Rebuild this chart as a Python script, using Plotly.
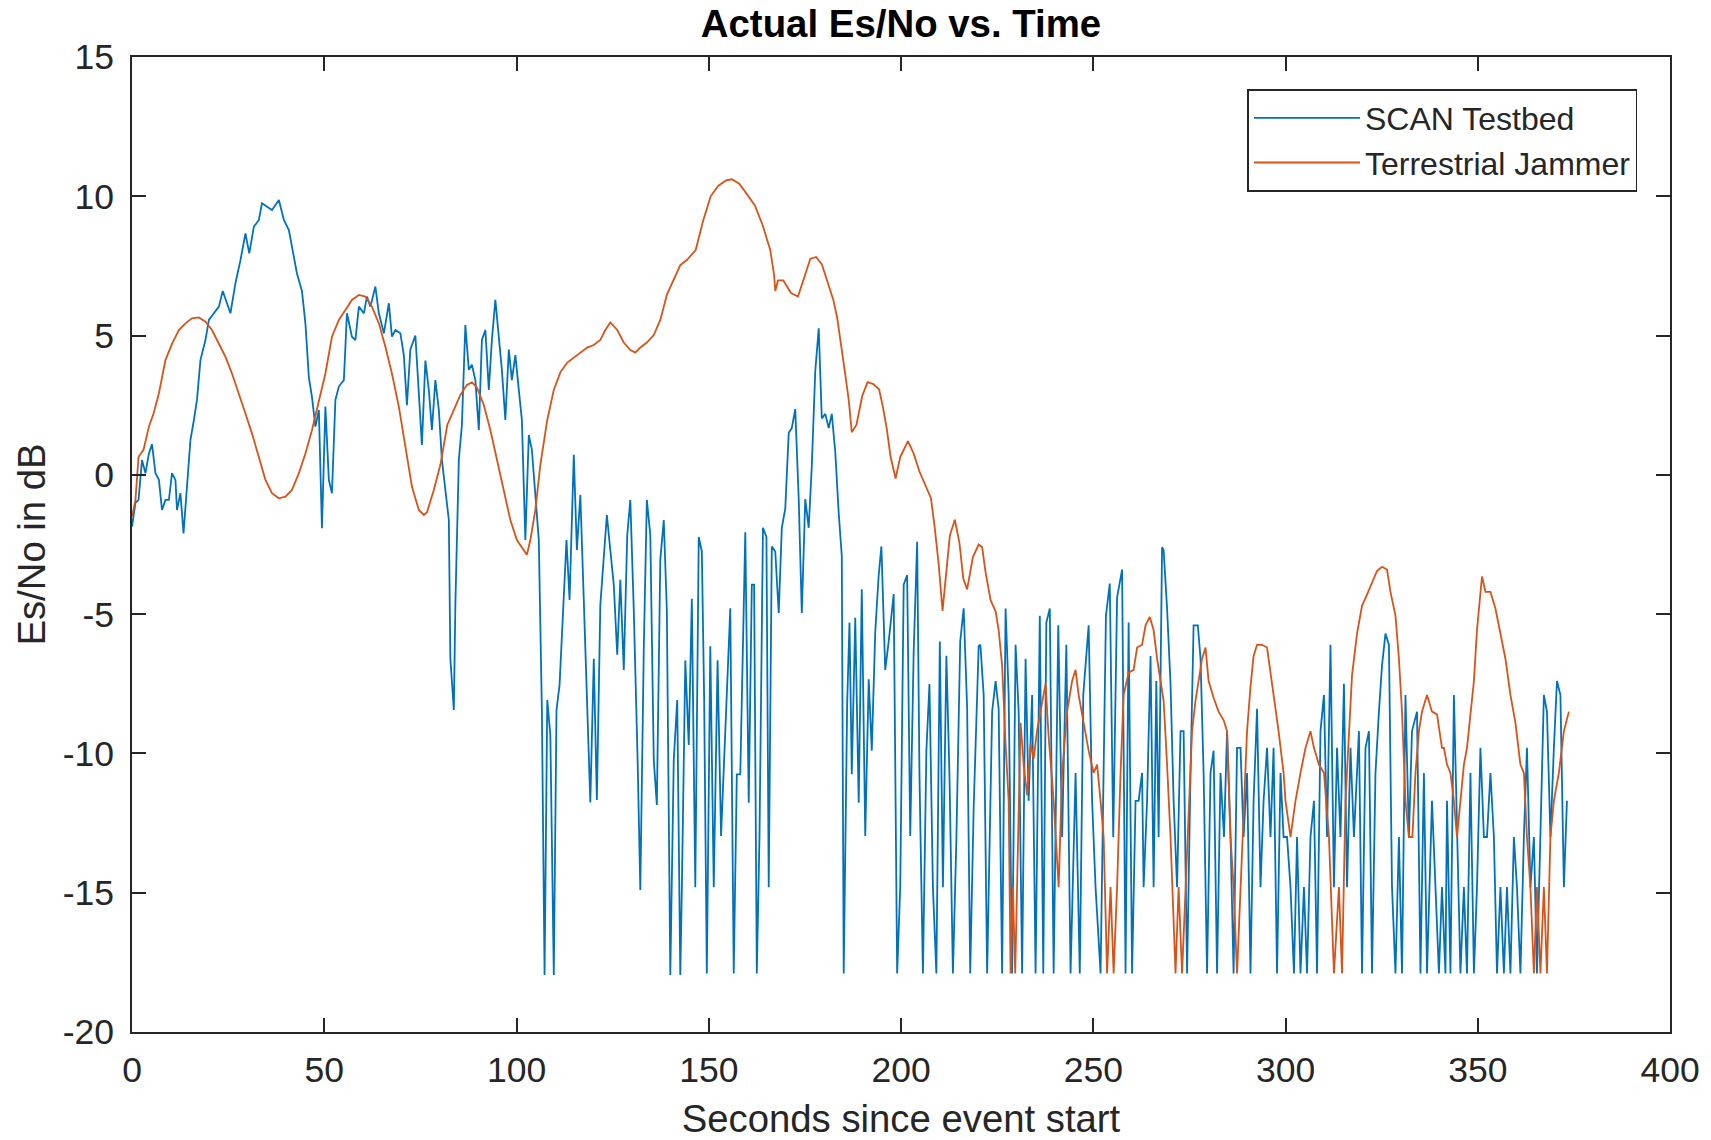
import plotly.graph_objects as go

# ---------------- data ----------------
scan_t = [0, 0.9, 1.7, 2.6, 3.5, 4.4, 5.2, 6.1, 7, 7.8, 8.7, 9.6, 10.4, 11.3, 11.7, 12.6, 13.4, 14.3, 15.2, 16.1,
          16.9, 17.8, 19.1, 20, 21.3, 22.6, 23.6, 24.7, 25.6, 26.9, 28.2, 29.5, 30.5, 31.7, 33, 33.8, 35.1, 36.4, 38.2, 39.5,
          40.8, 41.6, 42.9, 44.2, 45.1, 46, 46.8, 47.7, 48.6, 49.4, 50.3, 51.2, 52, 52.9, 53.8, 55.1, 55.9, 57.2, 58.1, 59,
          60.3, 61.1, 62, 63.3, 64.2, 65.5, 66.8, 67.6, 68.5, 69.8,
          70.7, 71.5, 72.4, 73.7, 74.6, 75.4, 76.3, 77.2, 78, 78.9, 79.8, 80.6, 81.5, 82.4, 82.8, 83.7, 84.1, 85, 85.8, 86.7,
          87.6, 88.4, 89.3, 90.2, 91, 91.9, 92.8, 93.6, 94.5, 95.4, 96.2, 97.1, 98, 98.8, 99.7, 100.6, 101.4, 102.3, 103.2, 104,
          104.9, 105.8, 106.6, 107.3, 108, 108.8, 109.7, 110.4, 111.2, 112.1, 113, 113.8, 114.9, 115.7, 116.6, 117.5, 118.4, 119.2,
          120.1, 120.9, 121.8, 122.7, 123.5, 124.4, 125.3, 126.2, 127, 127.9, 128.8, 129.6, 130.5, 131.5, 132.2, 133.1, 133.9,
          134.8, 135.7, 136.5, 137.4, 138.3, 139.1, 140, 140.9, 141.8, 142.6,
          143.0, 143.9, 144.8, 145.6, 146.5, 147.4, 148.2, 148.8, 149.5, 150.4, 151.3, 152.3, 153.2, 154.3, 155.6, 156.5, 157.3,
          158.2, 159.5, 160.4, 161.2, 161.8, 162.5, 163.2, 164.1, 165, 165.6, 166.4, 167.3, 168.2, 169, 169.9, 170.8, 171.6, 172.5,
          173.4, 174.2, 175.1, 176, 176.8, 177.7, 178.6, 179.4, 180.3, 181.2, 182, 182.9, 183.8, 184.6, 185.1, 186, 186.6, 187.2,
          188.1, 189, 189.8, 190.7, 191.6, 192.4, 193.3, 194.2, 194.9, 195.9, 196.8, 198.1, 199, 199.8, 200.7, 201.6, 202.4,
          203.3, 204.2, 204.8, 205.7, 206.6, 207.4, 208.3, 209.2, 210.1, 210.9, 211.8, 212.6, 213.5, 214.4, 215.4, 216.3, 217.2,
          218, 218.9, 220.2,
          220.65, 221.5, 222.4, 223.7, 224.6, 225.4, 226.3, 227.2, 228, 228.9, 229.8, 230.6, 231.5, 232.4, 233.2, 234.1, 235,
          236.1, 237, 237.8, 238.7, 239.7, 240.9, 241.9, 243, 244.1, 245.4, 246.5, 247.4, 248.8, 249.7, 250.6, 251.9, 253.3,
          254.3, 255.2, 256.2,
          257.5, 258.4, 259.2, 260.1, 261.0, 261.8, 262.7, 263.1, 264, 264.9, 265.7, 266.4, 267, 267.9, 268.3, 269.2, 270.1,
          270.9, 271.8, 272.7, 273.5, 274.4, 275.3, 276.1, 277.2, 277.9, 278.7, 279.6, 280.5, 281.3, 282.2, 283.1, 284, 284.8,
          285.7, 286.5, 287.4, 288.3, 289.1, 290, 290.9, 291.7, 292.6, 293.5, 294.3, 295.2, 296.1, 296.9, 297.8, 298.7, 299.5,
          300.4, 301.3, 302.2, 303, 303.9, 304.8, 305.6, 306.5, 307.4, 308.2, 309.1, 310, 310.8, 311.7, 312.6, 313.4, 314.3,
          315.2, 316, 316.9, 317.8, 319.1, 319.9, 320.8, 321.7, 322.5, 323.4, 324.3, 325.1, 326, 326.9, 327.7, 328.6, 329.5,
          330.3, 331.2, 332.1, 332.9, 334.2, 335.1, 336, 336.8, 338.1, 339, 339.9, 340.7, 341.6,
          342, 342.9, 343.8, 344.6, 345.5, 346.4, 347.2, 348.1, 349, 349.8, 350.7, 351.6, 352.4, 353.3, 354.2, 355, 355.9,
          356.8, 357.6, 358.5, 359.4, 360.2, 361.1, 362, 362.8, 363.7, 364.6, 365.4, 366.3, 367.2, 368, 368.9, 369.8, 370.6,
          371.5, 372.4, 373.2]

scan_db = [-1.86, -1.0, -0.9, 0.53, 0.06, 0.77, 1.1, 0.06, -0.18, -1.26, -0.9, -0.9, 0.06, -0.18, -1.26, -0.66, -2.1, -0.4, 1.25, 1.97,
           2.69, 4.12, 4.84, 5.56, 5.8, 6.04, 6.6, 6.16, 5.8, 6.88, 7.7, 8.67, 7.95, 8.91, 9.15, 9.75, 9.63, 9.51, 9.87, 9.15,
           8.79, 8.19, 7.23, 6.6, 5.44, 3.5, 2.8, 1.73, 2.33, -1.92, 2.45, -0.18, -0.66, 2.69, 3.17, 3.4, 5.8, 4.96, 4.84, 6.04,
           5.8, 6.4, 6.04, 6.76, 5.8, 5.08, 6.16, 4.96, 5.2, 5.08,
           4.3, 2.5, 4.5, 5.0, 3.05, 1.07, 4.1, 3.05, 1.61, 3.4, 2.33, 0.54, -0.54, -1.62, -6.6, -8.44, -4.67, 0.54, 1.79, 5.38,
           3.77, 3.95, 3.4, 1.61, 4.84, 5.2, 3.05, 4.84, 6.28, 5.0, 3.77, 1.97, 4.5, 3.4, 4.3, 3.05, 1.97, -2.34, 1.43, 0.9,
           -0.9, -2.34, -8.44, -17.95, -8.08, -9.33, -17.95, -8.44, -7.54, -4.85, -2.34, -4.49, 0.72, -2.7, -0.72, -4.49, -8.44, -11.76,
           -6.6, -11.67, -4.67, -3.05, -1.44, -2.7, -3.95, -6.46, -3.77, -7.0, -2.16, -0.9, -4.85, -10.23, -14.9, -6.28, -0.9,
           -2.16, -10.23, -11.85, -3.05, -1.62, -4.85, -17.95, -10.23, -8.08, -17.95,
           -14.9, -6.66, -9.7, -4.45, -14.8, -2.23, -2.75, -8.02, -17.9, -6.15, -14.8, -6.66, -12.96, -9.22, -4.79, -17.9, -10.75,
           -10.75, -2.06, -11.77, -3.94, -3.94, -17.9, -12.96, -1.9, -2.23, -14.8, -2.57, -2.75, -4.96, -1.9, -1.21, 1.51, 1.68, 2.36,
           -0.87, -4.96, -0.87, -1.9, 0.32, 3.72, 5.26, 2.02, 2.19, 1.68, 2.19, 0.83, -1.38, -2.91, -17.9, -8.2, -5.3, -10.75,
           -5.13, -11.77, -4.11, -12.96, -7.34, -9.9, -5.64, -3.6, -2.57, -7.0, -5.98, -4.28, -17.9, -14.8, -3.94, -3.6, -12.96,
           -6.32, -2.4, -10.75, -17.9, -9.9, -7.51, -14.8, -17.9, -5.98, -14.8, -6.49, -10.75, -17.9, -13.1, -5.98, -4.79, -8.36,
           -17.9, -11.94, -6.15,
           -6.1, -7.9, -17.9, -8.5, -7.4, -8.4, -17.9, -4.8, -7.9, -17.9, -6.1, -8.5, -17.9, -6.6, -11.7, -7.9, -17.9,
           -5.06, -17.9, -5.3, -4.8, -17.9, -5.4, -13.0, -6.1, -17.9, -10.7, -17.9, -7.9, -5.4, -11.7, -14.8, -17.9, -5.06,
           -3.9, -13.0, -4.4,
           -3.4, -17.9, -5.3, -17.9, -11.7, -11.7, -10.7, -14.8, -11.7, -6.5, -14.8, -7.4, -13.0, -2.6, -2.7, -4.8, -7.5,
           -11.7, -14.8, -9.2, -9.2, -17.9, -10.7, -5.4, -5.4, -6.6, -10.7, -17.9, -10.7, -9.9, -17.9, -10.7, -13.0, -9.2,
           -13.0, -17.9, -9.8, -9.8, -13.0, -10.7, -17.9, -11.7, -8.4, -14.8, -11.7, -9.8, -13.0, -9.8, -17.9, -10.7, -13.0,
           -13.0, -14.8, -17.9, -13.0, -17.9, -14.8, -17.9, -13.0, -11.7, -17.9, -9.2, -7.9, -13.0, -6.1, -14.8, -9.8, -13.0,
           -7.5, -14.8, -9.8, -13.0, -9.2, -17.9, -9.8, -9.2, -17.9, -10.7, -8.5, -6.85, -5.7, -6.1, -14.8, -17.9, -13.0,
           -17.9, -7.9, -13.0, -9.2, -8.5, -17.9, -10.7, -17.9, -11.7, -14.8, -17.9, -14.8, -17.9,
           -11.7, -17.9, -7.9, -13.0, -17.9, -14.8, -17.9, -10.7, -17.9, -14.8, -9.8, -13.0, -13.0, -10.7, -13.0, -17.9, -14.8,
           -17.9, -14.8, -17.9, -13.0, -14.8, -17.9, -13.0, -9.8, -14.8, -13.0, -17.9, -13.0, -7.9, -8.5, -13.0, -9.8, -7.4,
           -7.9, -14.8, -11.7]

jam_t = [0, 0.9, 1.7, 3, 4.4, 5.6, 7, 8.7, 10.4, 12.2, 13.9, 15.6, 17.4, 19.1, 20.8, 22.6, 24.3, 26, 27.8, 29.5,
         31.2, 33, 34.7, 36.4, 38.2, 39.9, 41.6, 43.4, 45.1, 46.8, 48.6, 50.3, 52, 53.8, 55.5, 57.2, 59, 60.7, 62.4, 64.2,
         65.9, 67.6, 69.4, 71.1, 72.8, 74.6, 75.9, 76.7, 78.5, 80.2, 82, 83.7, 85.4, 87.1, 88.4, 89.7, 91.5, 93.2, 94.9, 96.7,
         98.4, 100.1, 101.9, 102.7, 103.6, 104.9, 106.2, 108, 109.7, 111.4, 113.2, 114.9, 116.6, 118.4, 120.1, 121.8, 123.1,
         124.4, 126.2, 127.9, 129.6, 130.9, 132.2, 133.9, 135.7, 137.4, 139.1, 140.9, 142.6, 144.3, 146.6, 148.5, 150.5, 152.5,
         154.5, 156, 158, 160, 162, 164, 166, 167, 167.3, 168, 169.4, 171.4, 173.2, 174.9, 176.4, 177.9, 179.4, 180.9, 182.4,
         183.4, 184.4, 185.4, 186.4, 187.2, 188.4, 189.9, 191.3, 192.8, 194.3, 195.3, 196.3, 197.3, 198.6, 199.8, 201.8, 203.3,
         204.8, 206.3, 207.8, 208.8, 209.8, 210.8, 211.7, 212.7, 214, 215.2, 216.2, 217.2, 218.7, 220.2, 221.1, 222, 223.3,
         224.6, 225.4, 226.3, 227.2, 228, 228.5, 229.1, 229.7, 230.2, 231.1, 231.9, 232.8, 233.7, 234.5, 235.4, 236.7, 237.6,
         238.4, 239.7, 241, 241.9, 243.2, 244.5, 245.4, 246.2, 247.5, 248.8, 250.1, 251, 251.9, 252.7, 253.6, 254.5, 255.3,
         256.2, 257.1, 257.9, 259.2, 260.5, 261.4, 262.7, 263.6, 264.7, 265.7, 266.6, 267.5, 268.3, 269.2, 270.1, 271.4,
         272.2, 273.1, 274, 274.8, 275.7, 276.6, 277.4, 278.3, 279.2, 280, 281.3, 282.6, 283.9, 284.8, 285.7, 286.5, 287.4,
         288.3, 289.1, 290, 290.9, 291.7, 292.6, 293.9, 295.2, 296.1, 296.9, 298.2, 299.5, 300, 301.3, 302.6, 303.9, 305.2,
         306.5, 307.4, 308.7, 310, 311.3, 312.6, 313.9, 314.7, 315.6, 316.5, 317.3, 318.6, 319.9, 321.2, 322.5, 323.8, 325.1,
         326.4, 327.3, 328.6, 329.5, 330.3, 331.2, 332.1, 333, 333.8, 334.7, 335.5, 336.8, 338.1, 339.4, 340.7, 341.2, 342,
         342.9, 343.8, 344.6, 345.5, 346.4, 347.2, 348.1, 349, 349.8, 350.7, 351.1, 352, 353.3, 354.6, 355.9, 357.2, 358.5,
         359.8, 361.1, 362, 362.8, 363.7, 364.6, 365.4, 366.3, 367.2, 368, 368.9, 369.8, 371.1, 372.4, 373.7]

jam_db = [-1.5, -0.9, 0.65, 0.9, 1.73, 2.2, 2.93, 4.12, 4.7, 5.2, 5.44, 5.62, 5.65, 5.5, 5.2, 4.72, 4.24, 3.64, 2.93, 2.2,
          1.49, 0.65, -0.18, -0.66, -0.84, -0.78, -0.54, 0.06, 0.77, 1.6, 2.69, 3.64, 4.96, 5.56, 5.92, 6.28, 6.46, 6.4, 6.04, 5.44,
          4.6, 3.64, 2.45, 1.0, -0.42, -1.26, -1.44, -1.35, -0.54, 0.36, 1.79, 2.33, 2.87, 3.23, 3.32, 3.14, 2.51, 1.61, 0.54, -0.54,
          -1.62, -2.34, -2.7, -2.87, -2.34, -1.26, 0.36, 1.97, 3.05, 3.68, 4.03, 4.21, 4.39, 4.57, 4.66, 4.84, 5.2,
          5.47, 5.2, 4.75, 4.48, 4.39, 4.57, 4.75, 5.02, 5.56, 6.46, 7.0, 7.53, 7.71, 8.07, 9.1, 10.0, 10.38,
          10.57, 10.61, 10.44, 10.06, 9.67, 8.97, 8.07, 7.17, 6.6, 6.98, 6.98, 6.53, 6.4, 7.11, 7.75, 7.82, 7.56, 6.92, 6.28,
          5.64, 4.74, 3.71, 2.69, 1.53, 1.79, 2.82, 3.33, 3.26, 3.07, 2.43, 1.66, 0.64, -0.13, 0.64, 1.21, 0.76,
          0.12, -0.39, -0.84, -1.93, -3.21, -4.88, -3.72, -2.18, -1.61, -2.44, -3.72, -4.11, -2.95, -2.5, -2.6, -3.5, -4.5,
          -4.9, -5.57, -6.85, -9.67, -11.7, -17.9, -14.8, -17.9, -14.8, -8.9, -10.4, -11.5, -9.67, -10.2, -9.16, -8.1, -7.5,
          -9.4, -11.7, -14.8, -10.7, -8.5, -7.4, -7.0, -7.9, -8.9, -9.9, -10.7, -10.4, -11.7, -13.0, -17.9, -14.8, -17.9,
          -14.8, -10.7, -7.9, -7.1, -7.0, -6.2, -6.1, -5.4, -5.1, -5.57, -6.6, -7.4, -8.1, -10.4, -13.0, -17.9,
          -14.8, -17.9, -14.8, -11.7, -9.2, -8.1, -7.4, -6.6, -6.2, -7.4, -8.0, -8.5, -8.8, -9.2, -13.0, -14.8, -17.9,
          -14.8, -11.7, -9.2, -7.6, -6.5, -6.1, -6.1, -6.2, -7.1, -7.9, -9.2, -10.7, -11.7, -13.0, -11.7, -10.7, -9.8,
          -9.2, -9.8, -10.4, -10.7, -13.0, -17.9, -14.8, -17.9, -11.7, -9.2, -7.2, -5.7, -4.7, -4.3, -3.9, -3.45, -3.3,
          -3.4, -4.2, -5.05, -6.6, -8.5, -11.7, -13.0, -13.0, -10.7, -9.2, -8.5, -7.9, -8.5, -8.6, -9.8, -9.8, -10.4,
          -10.7, -11.7, -13.0, -11.7, -10.4, -9.8, -8.5, -7.4, -5.57, -4.3, -3.65, -4.2, -4.2, -4.8, -5.7, -6.6, -7.9,
          -8.9, -10.4, -10.7, -13.0, -14.8, -17.9, -14.8, -17.9, -14.8, -17.9, -13.0, -11.7, -10.7, -9.2, -8.5]

series_names = ["SCAN Testbed", "Terrestrial Jammer"]
x_ticks = [0, 50, 100, 150, 200, 250, 300, 350, 400]
y_ticks = [-20, -15, -10, -5, 0, 5, 10, 15]
y_tick_text = ["-20", "-15", "-10", "-5", "0", "5", "10", "15"]

# ---------------- figure ----------------
FONT = "Liberation Sans, Arial, Helvetica, sans-serif"
INK = "#262626"

fig = go.Figure()
fig.add_trace(go.Scatter(x=scan_t, y=scan_db, mode="lines", name=series_names[0],
                         line=dict(color="#0072BD", width=1.8)))
fig.add_trace(go.Scatter(x=jam_t, y=jam_db, mode="lines", name=series_names[1],
                         line=dict(color="#D95319", width=1.8)))

axis_common = dict(showgrid=False, zeroline=False, showline=True, linecolor=INK, linewidth=1.6,
                   mirror="ticks", ticks="inside", ticklen=14, tickwidth=1.6, tickcolor=INK,
                   automargin=False,
                   tickfont=dict(family=FONT, size=35.5, color=INK))

fig.update_layout(
    template="none",
    width=1711, height=1140,
    paper_bgcolor="white", plot_bgcolor="white",
    margin=dict(l=132, r=41, t=57, b=108, autoexpand=False),
    title=dict(text="<b>Actual Es/No vs. Time</b>", x=0.5, xref="paper", y=1 - 24 / 1140, yref="container",
               xanchor="center", yanchor="middle", font=dict(family=FONT, size=38.4, color="#000000")),
    xaxis=dict(range=[0, 400], tickvals=x_ticks, ticklabelstandoff=6,
               title=dict(text="Seconds since event start", font=dict(family=FONT, size=38.3, color=INK), standoff=19),
               **axis_common),
    yaxis=dict(range=[-20, 15], tickvals=y_ticks, ticktext=y_tick_text, ticklabelstandoff=9,
               title=dict(text="Es/No in dB", font=dict(family=FONT, size=38.3, color=INK), standoff=5),
               **axis_common),
    legend=dict(x=0.9788, y=0.9672, xanchor="right", yanchor="top", bgcolor="white",
                bordercolor=INK, borderwidth=1.6, font=dict(family=FONT, size=32, color=INK),
                itemwidth=106, tracegroupgap=0),
    showlegend=True,
)

fig.write_html("out.html",
               config={"displayModeBar": False},
               post_script="document.body.style.margin='0';document.body.style.overflow='hidden';")
